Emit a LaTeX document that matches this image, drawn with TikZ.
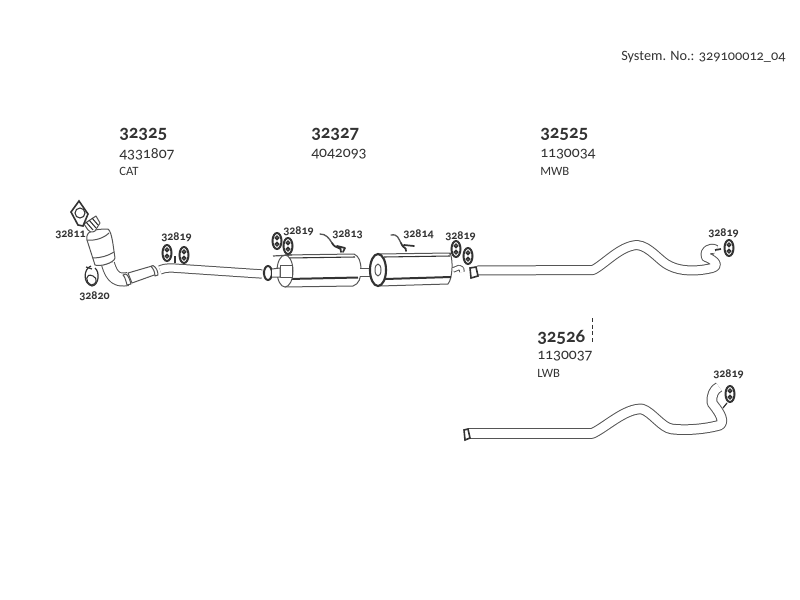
\documentclass[tikz,border=0pt]{standalone}
\usepackage{fontspec}
\setmainfont[Numbers=OldStyle]{Carlito}
\definecolor{ink}{HTML}{333333}
\definecolor{soft}{HTML}{555555}
\tikzset{
  partno/.style={anchor=west,inner sep=0pt,text=ink,font=\fontsize{14.2}{16}\selectfont\bfseries},
  refno/.style={anchor=west,inner sep=0pt,text=ink,font=\fontsize{11.7}{13}\selectfont},
  variant/.style={anchor=west,inner sep=0pt,text=ink,font=\fontsize{9.5}{11}\selectfont},
  small/.style={anchor=west,inner sep=0pt,text=ink,font=\fontsize{9}{10}\selectfont\bfseries},
  tube/.style={draw=soft,line width=0.75pt,double=white,double distance=#1,line join=round},
  tube/.default=5.3pt,
  edge/.style={draw=soft,line width=0.75pt,fill=white,line join=round},
  dark/.style={draw=ink,line width=1.2pt,fill=white},
  hanger/.style={draw=ink,line width=1.5pt,fill=white},
}
\newcommand{\hang}[2]{%
  \draw[hanger] (#1,#2) ellipse (4.5 and 8);
  \draw[ink,line width=1.1pt] (#1,#2-3.2) circle (1.7);
  \draw[ink,line width=1.1pt] (#1,#2+3.2) circle (1.7);
}
\begin{document}
\begin{tikzpicture}[x=0.75pt,y=-0.75pt]
\useasboundingbox (0,0) rectangle (800,600);
% texts
\node[anchor=west,inner sep=0pt,text=ink,font=\fontsize{10.7}{12}\selectfont] (sys) at (621,57) {System. No.: 329100012\_04};
\node[partno] (a1) at (119,134) {32325};
\node[refno] (a2) at (119,154) {4331807};
\node[variant] (a3) at (119,171) {CAT};
\node[partno] (b1) at (311,134) {32327};
\node[refno] (b2) at (311,154) {4042093};
\node[partno] (c1) at (540,134) {32525};
\node[refno] (c2) at (540,154) {1130034};
\node[variant] (c3) at (540,171) {MWB};
\node[partno] (d1) at (537,337) {32526};
\node[refno] (d2) at (537,356) {1130037};
\node[variant] (d3) at (537,373) {LWB};
\draw[ink,densely dashed,line width=.6pt] (592,318) -- (592,342);
\node[small] (s1) at (55,234) {32811};
\node[small] (s2) at (161,237) {32819};
\node[small] (s3) at (79,296) {32820};
\node[small] (s4) at (283,231) {32819};
\node[small] (s5) at (332,234) {32813};
\node[small] (s6) at (403,234) {32814};
\node[small] (s7) at (445,236) {32819};
\node[small] (s8) at (708,233) {32819};
\node[small] (s9) at (713,374) {32819};
% front pipe
\draw[tube=5.5pt] (160,270) .. controls (167,267) and (172,268) .. (180,268.5) -- (262,274);
\draw[edge] (128,273) -- (152,266) -- (157,274) -- (132,283) -- cycle;
\draw[edge] (153,265.5) .. controls (156,267) and (158,271) .. (158,275) -- (155,276) .. controls (155,272) and (153,268) .. (151,266.5) -- cycle;
\draw[tube=9pt] (108,264) .. controls (112,278) and (118,281) .. (128,279);
\draw[edge] (126,274) .. controls (129,276) and (130,281) .. (131,284) -- (127,285) .. controls (126,281) and (125,277) .. (123,275) -- cycle;
% catalyst
\draw[edge] (87,240) .. controls (85,231) and (94,229) .. (108,229) .. controls (112,232) and (113,245) .. (115,258) .. controls (114,263) and (100,267) .. (95,265) -- cycle;
\draw[edge] (87,240) .. controls (95,241) and (104,238) .. (109,233);
\draw[edge] (93,258) .. controls (100,258) and (108,256) .. (114,252);
% flex pipe and gasket
\draw[edge] (84,224) -- (96,216) -- (100,223) -- (95,231) .. controls (92,233) and (89,232) .. (88,230) -- cycle;
\draw[ink,line width=.8pt] (86,222) -- (93,230) (89,220) -- (96,228) (92,218) -- (98,225);
\draw[dark] (79,201) -- (88,214) -- (83,226) -- (78,225) -- (71,212) -- cycle;
\draw[ink,line width=.8pt] (80,213) circle (5);
% clamp
\draw[ink,line width=.8pt] (93,276) .. controls (85,272) and (85,283) .. (91,285) .. controls (97,285) and (98,278) .. (93,276);
\draw[ink,line width=.9pt] (91,266) .. controls (83,269) and (83,284) .. (92,286) .. controls (99,285) and (100,272) .. (95,268);
\draw[ink,line width=.9pt] (86,267) -- (92,269);
% pipe hangers 1
\hang{167}{253}\hang{184}{255}
\draw[ink,line width=.9pt] (175,256) -- (175,263);
% muffler 1
\draw[edge] (285,255) -- (354,254) .. controls (359,256) and (361,262) .. (361,270) .. controls (361,278) and (359,284) .. (353,286) -- (285,287) -- cycle;
\draw[ink,line width=1.5pt] (288,279) -- (358,277.5);
\draw[ink,line width=.8pt] (288,258) -- (355,257);
\draw[edge] (285,271) ellipse (8 and 16);
\draw[edge] (280,265) -- (292,265) -- (292,277) -- (280,277) -- cycle;
\draw[hanger] (268,273) ellipse (4 and 7);
\draw[edge] (272,269) -- (280,268) -- (280,277) -- (272,277);
\draw[soft,line width=.9pt] (273,256) -- (292,255);
\hang{277}{241}\hang{288}{246}
% center pipe
\draw[edge] (360,268) -- (378,268) -- (378,276) -- (360,276);
% muffler 2
\draw[edge] (378,254) -- (450,253) .. controls (453,258) and (453,278) .. (448,284) -- (380,286) -- cycle;
\draw[ink,line width=1.5pt] (385,279) -- (451,277);
\draw[ink,line width=.8pt] (384,257) -- (450,256);
\draw[draw=ink,line width=1.6pt,fill=white] (378,270) ellipse (8 and 16);
\draw[edge] (378,270) ellipse (3 and 6);
\draw[tube=2.6pt] (453,270) -- (459,267.5) .. controls (462,267) and (462,270) .. (462,272);
\draw[soft,line width=.9pt] (449,254) -- (455,252);
\hang{456}{249}\hang{468}{256}
% rubber mounts pieces
\begin{scope}[ink,line width=1pt,line cap=round]
\draw[soft] (320,234) .. controls (326,234) and (329,238) .. (332,243);
\draw[line width=1.3pt] (332,243) .. controls (336,250) and (342,246) .. (341,252) (337,246) -- (345,248) (345,248) -- (343,252);
\draw[soft] (391,235) .. controls (398,234) and (398,238) .. (401,243);
\draw[line width=1.3pt] (401,243) .. controls (404,250) and (406,246) .. (406,251) (404,245) -- (414,246);
\end{scope}
% tailpipe MWB
\draw[tube=6pt] (477,270.5) -- (593,270) .. controls (605,264) and (620,246) .. (637,245) .. controls (650,246) and (660,262) .. (670,266) .. controls (680,271) and (695,272) .. (712,268) .. controls (722,265) and (710,258) .. (706,257) .. controls (703,252) and (710,246) .. (716,250);
\draw[dark] (470,268) -- (476,267) -- (478,276) -- (471,278) -- cycle;
\draw[ink,line width=1.3pt] (715,250) -- (721,249);
\hang{729}{248}
% tailpipe LWB
\draw[tube=6.5pt] (468,433.5) -- (592,433.5) .. controls (605,428) and (625,408) .. (642,409) .. controls (652,412) and (662,428) .. (672,429) .. controls (690,431) and (710,428) .. (720,425) .. controls (726,420) and (716,408) .. (712,403) .. controls (711,396) and (714,389) .. (719,387);
\draw[dark] (464,430) -- (468,429) -- (470,438) -- (465,440) -- cycle;
\hang{730}{394}
\draw[ink,line width=.9pt] (723,408) -- (727,403);
\end{tikzpicture}
\end{document}
